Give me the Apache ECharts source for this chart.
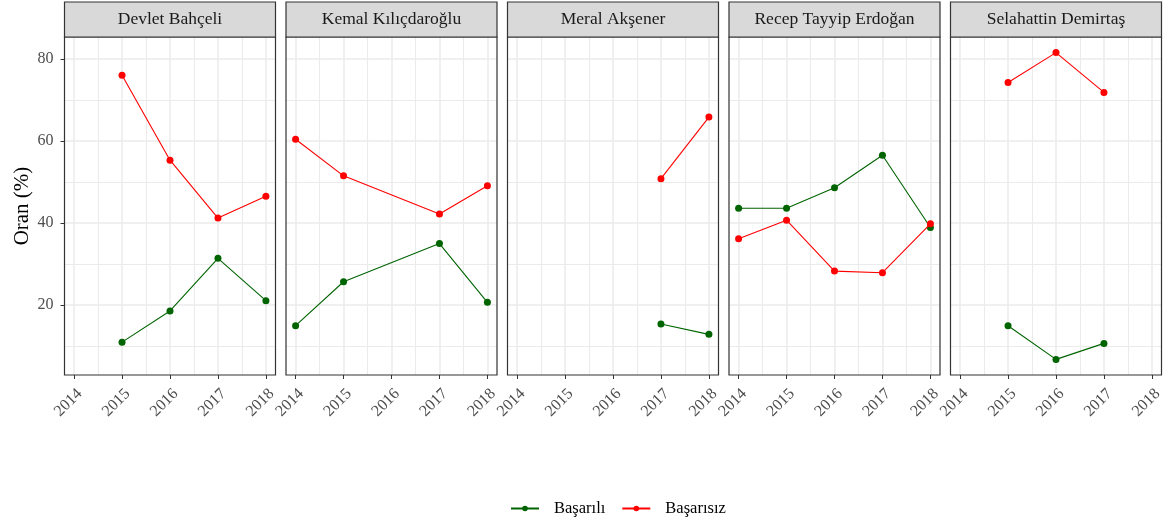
<!DOCTYPE html>
<html>
<head>
<meta charset="utf-8">
<script src="https://cdn.jsdelivr.net/npm/echarts@6/dist/echarts.min.js"></script>
<style>
  html, body { margin: 0; padding: 0; background: #fff; }
  #chart { width: 1168px; height: 520px; }
</style>
</head>
<body>
<div id="chart"></div>
<script>
// Leaders shown one per panel, in panel order
const leaders = ['Devlet Bahçeli', 'Kemal Kılıçdaroğlu', 'Meral Akşener', 'Recep Tayyip Erdoğan', 'Selahattin Demirtaş'];
const years = [2014, 2015, 2016, 2017, 2018];
const seriesNames = ['Başarılı', 'Başarısız'];

// Share (%) per year, aligned with `years`; null = no survey that year
const basariliBahceli       = [null, 11.0, 18.6, 31.4, 21.1];
const basarisizBahceli      = [null, 76.0, 55.3, 41.2, 46.5];
const basariliKilicdaroglu  = [15.0, 25.7, null, 35.0, 20.7];
const basarisizKilicdaroglu = [60.4, 51.5, null, 42.2, 49.1];
const basariliAksener       = [null, null, null, 15.4, 12.9];
const basarisizAksener      = [null, null, null, 50.8, 65.8];
const basariliErdogan       = [43.6, 43.6, 48.6, 56.5, 38.9];
const basarisizErdogan      = [36.2, 40.7, 28.3, 27.9, 39.8];
const basariliDemirtas      = [null, 15.0, 6.8, 10.7, null];
const basarisizDemirtas     = [null, 74.2, 81.5, 71.8, null];

// Axis breaks
const yTicks = [20, 40, 60, 80];
const yMinorTicks = [10, 30, 50, 70];
const xTicks = years;
const xMinorTicks = [2014.5, 2015.5, 2016.5, 2017.5];

const basariliByPanel = [basariliBahceli, basariliKilicdaroglu, basariliAksener, basariliErdogan, basariliDemirtas];
const basarisizByPanel = [basarisizBahceli, basarisizKilicdaroglu, basarisizAksener, basarisizErdogan, basarisizDemirtas];

// Layout
const PANEL_LEFT0 = 64.5, PANEL_STEP = 221.5, PANEL_W = 211;
const PLOT_TOP = 37, PLOT_H = 338;
const STRIP_TOP = 2, STRIP_H = PLOT_TOP - STRIP_TOP;
const X_MIN = 2013.8, X_MAX = 2018.2;
const Y_MIN = 3.0, Y_MAX = 85.3;

const SERIF = 'Liberation Serif, Times New Roman, serif';
const GREEN = '#006400', RED = '#FF0000';

const toPoints = arr => years.map((y, i) => [y, arr[i]]).filter(p => p[1] !== null);

const grids = [], xAxes = [], yAxes = [], series = [], graphics = [];

leaders.forEach((name, k) => {
  const left = PANEL_LEFT0 + k * PANEL_STEP;
  grids.push({ left: left, top: PLOT_TOP, width: PANEL_W, height: PLOT_H, show: true, backgroundColor: '#fff', borderWidth: 0 });

  xAxes.push({
    type: 'value', gridIndex: k, min: X_MIN, max: X_MAX,
    axisLine: { show: false },
    axisTick: { show: true, customValues: xTicks, length: 4, lineStyle: { color: '#333333', width: 1 } },
    axisLabel: {
      customValues: xTicks, rotate: 45, align: 'center', verticalAlign: 'middle',
      padding: [0, 16, 0, 0], margin: 22,
      fontFamily: SERIF, fontSize: 16, color: '#4D4D4D',
      formatter: v => String(v)
    },
    splitLine: { show: false }
  });

  yAxes.push({
    type: 'value', gridIndex: k, min: Y_MIN, max: Y_MAX,
    axisLine: { show: false },
    axisTick: { show: k === 0, customValues: yTicks, length: 4, lineStyle: { color: '#333333', width: 1 } },
    axisLabel: { show: k === 0, customValues: yTicks, margin: 11, fontFamily: SERIF, fontSize: 16, color: '#4D4D4D' },
    splitLine: { show: false },
    name: k === 0 ? 'Oran (%)' : '',
    nameLocation: 'middle', nameGap: 32, nameRotate: 90,
    nameTextStyle: { fontFamily: SERIF, fontSize: 21, color: '#000' }
  });

  // panel grid lines, kept beneath the data
  series.push({
    type: 'line', xAxisIndex: k, yAxisIndex: k, data: [], z: 1, silent: true,
    markLine: {
      z: 1, silent: true, symbol: 'none', animation: false,
      label: { show: false },
      lineStyle: { color: '#EBEBEB', type: 'solid', width: 1 },
      emphasis: { disabled: true },
      data: [
        ...yMinorTicks.map(v => ({ yAxis: v, lineStyle: { width: 1.1 } })),
        ...xMinorTicks.map(v => ({ xAxis: v, lineStyle: { width: 1.1 } })),
        ...yTicks.map(v => ({ yAxis: v, lineStyle: { width: 1.5 } })),
        ...xTicks.map(v => ({ xAxis: v, lineStyle: { width: 1.5 } }))
      ]
    }
  });

  series.push({
    name: seriesNames[0], type: 'line', xAxisIndex: k, yAxisIndex: k, z: 3,
    data: toPoints(basariliByPanel[k]),
    symbol: 'circle', symbolSize: 7, showAllSymbol: true,
    itemStyle: { color: GREEN, borderWidth: 0 }, lineStyle: { color: GREEN, width: 1.1 }
  });
  series.push({
    name: seriesNames[1], type: 'line', xAxisIndex: k, yAxisIndex: k, z: 4,
    data: toPoints(basarisizByPanel[k]),
    symbol: 'circle', symbolSize: 7, showAllSymbol: true,
    itemStyle: { color: RED, borderWidth: 0 }, lineStyle: { color: RED, width: 1.1 }
  });

  // panel border
  graphics.push({
    type: 'rect', z: 100, silent: true,
    shape: { x: left, y: PLOT_TOP, width: PANEL_W, height: PLOT_H },
    style: { fill: null, stroke: '#333333', lineWidth: 1.2 }
  });
  // facet strip
  graphics.push({
    type: 'rect', z: 100, silent: true,
    shape: { x: left, y: STRIP_TOP, width: PANEL_W, height: STRIP_H },
    style: { fill: '#D9D9D9', stroke: '#333333', lineWidth: 1.2 }
  });
  graphics.push({
    type: 'text', z: 101, silent: true,
    x: left + PANEL_W / 2, y: STRIP_TOP + STRIP_H / 2,
    style: { text: name, fill: '#1A1A1A', font: '17.5px ' + SERIF, align: 'center', verticalAlign: 'middle' }
  });
});

const chart = echarts.init(document.getElementById('chart'), null, { renderer: 'canvas' });
chart.setOption({
  animation: false,
  backgroundColor: '#fff',
  grid: grids,
  xAxis: xAxes,
  yAxis: yAxes,
  series: series,
  graphic: graphics,
  legend: {
    data: seriesNames,
    left: 505, top: 495,
    itemWidth: 28, itemHeight: 7, itemGap: 16,
    textStyle: { fontFamily: SERIF, fontSize: 16.5, color: '#000', padding: [0, 0, 0, 10] }
  }
});
</script>
</body>
</html>
